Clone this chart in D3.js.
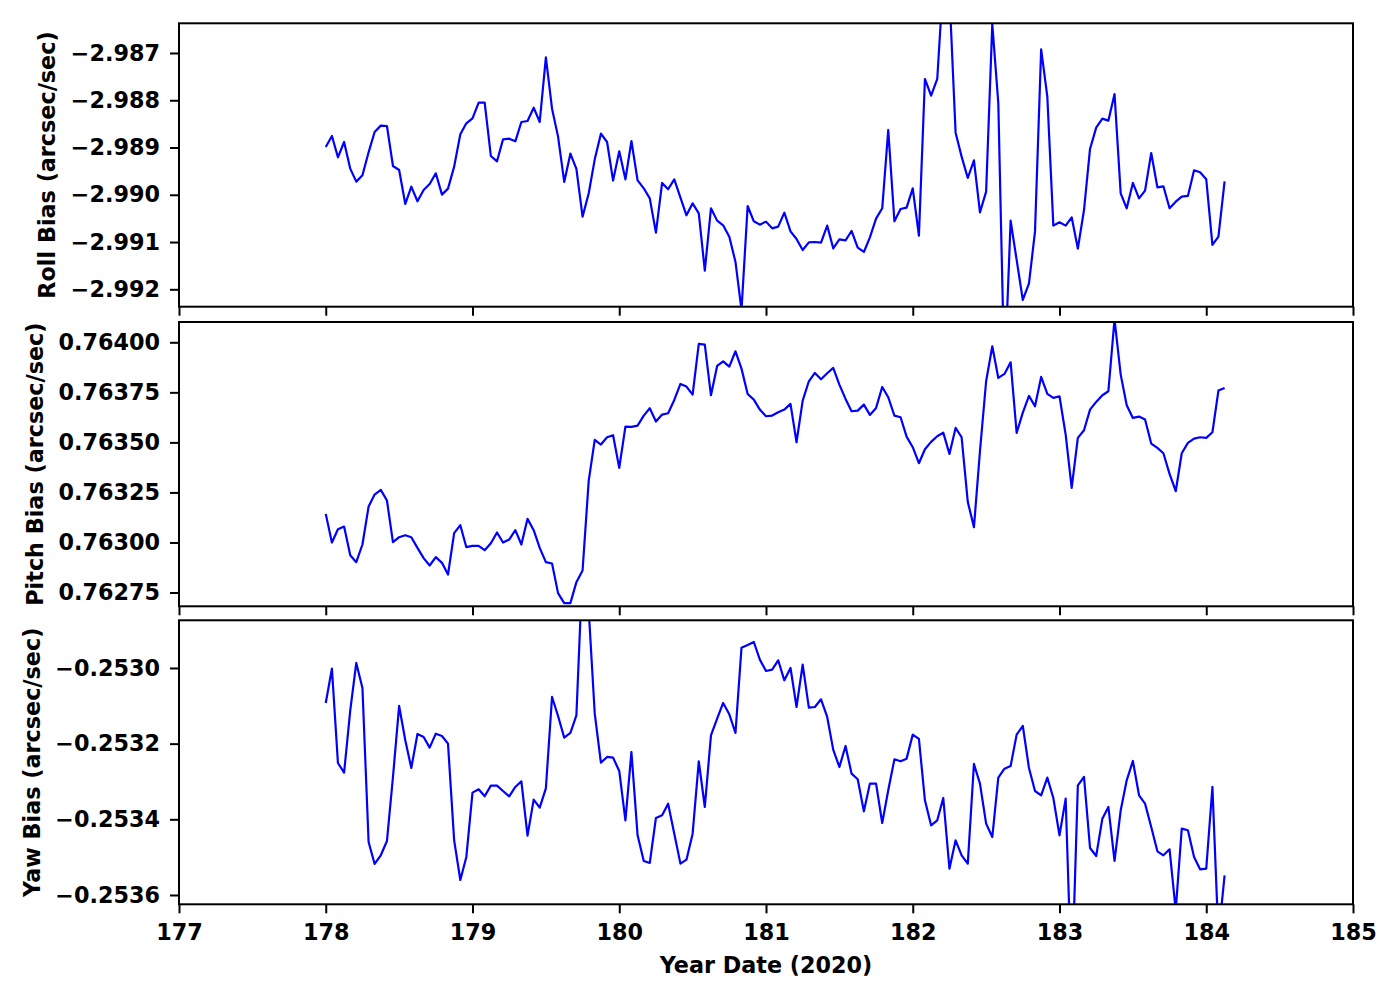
<!DOCTYPE html>
<html>
<head>
<meta charset="utf-8">
<script src="https://cdn.jsdelivr.net/npm/d3@7"></script>
<style>
  html, body { margin: 0; padding: 0; background: #ffffff; }
  svg { display: block; }
  text { font-family: "DejaVu Sans", sans-serif; font-weight: bold; fill: #000; }
</style>
</head>
<body>
<svg id="chart" width="1400" height="1000"></svg>
<script>
// ---------------- DATA ----------------
const times = [
  178.000,178.042,178.083,178.125,178.167,178.208,178.250,178.292,178.333,178.375,178.417,178.458,
  178.500,178.542,178.583,178.625,178.667,178.708,178.750,178.792,178.833,178.875,178.917,178.958,
  179.000,179.042,179.083,179.125,179.167,179.208,179.250,179.292,179.333,179.375,179.417,179.458,
  179.500,179.542,179.583,179.625,179.667,179.708,179.750,179.792,179.833,179.875,179.917,179.958,
  180.000,180.042,180.083,180.125,180.167,180.208,180.250,180.292,180.333,180.375,180.417,180.458,
  180.500,180.542,180.583,180.625,180.667,180.708,180.750,180.792,180.833,180.875,180.917,180.958,
  181.000,181.042,181.083,181.125,181.167,181.208,181.250,181.292,181.333,181.375,181.417,181.458,
  181.500,181.542,181.583,181.625,181.667,181.708,181.750,181.792,181.833,181.875,181.917,181.958,
  182.000,182.042,182.083,182.125,182.167,182.208,182.250,182.292,182.333,182.375,182.417,182.458,
  182.500,182.542,182.583,182.625,182.667,182.708,182.750,182.792,182.833,182.875,182.917,182.958,
  183.000,183.042,183.083,183.125,183.167,183.208,183.250,183.292,183.333,183.375,183.417,183.458,
  183.500,183.542,183.583,183.625,183.667,183.708,183.750,183.792,183.833,183.875,183.917,183.958,
  184.000,184.042,184.083,184.125
];

const rollBias = [
  -2.988989,-2.988756,-2.989207,-2.988883,-2.989447,-2.989722,-2.989588,-2.989102,-2.988671,-2.988537,
  -2.988545,-2.989391,-2.989475,-2.990195,-2.989828,-2.990138,-2.989899,-2.989772,-2.989546,-2.989997,
  -2.989870,-2.989405,-2.988721,-2.988488,-2.988382,-2.988051,-2.988051,-2.989179,-2.989292,-2.988827,
  -2.988813,-2.988869,-2.988460,-2.988439,-2.988157,-2.988460,-2.987092,-2.988178,-2.988770,-2.989729,
  -2.989130,-2.989454,-2.990463,-2.989969,-2.989250,-2.988707,-2.988883,-2.989701,-2.989080,-2.989673,
  -2.988862,-2.989694,-2.989863,-2.990075,-2.990801,-2.989750,-2.989884,-2.989673,-2.990061,-2.990434,
  -2.990181,-2.990392,-2.991605,-2.990286,-2.990547,-2.990646,-2.990886,-2.991422,-2.992437,-2.990237,
  -2.990561,-2.990632,-2.990568,-2.990710,-2.990674,-2.990378,-2.990773,-2.990935,-2.991168,-2.991006,
  -2.990999,-2.991013,-2.990653,-2.991133,-2.990942,-2.990963,-2.990766,-2.991119,-2.991210,-2.990900,
  -2.990505,-2.990286,-2.988629,-2.990561,-2.990300,-2.990272,-2.989863,-2.990865,-2.987550,-2.987903,
  -2.987550,-2.985456,-2.985738,-2.988686,-2.989193,-2.989645,-2.989271,-2.990371,-2.989934,-2.986387,
  -2.988065,-2.993900,-2.990547,-2.991379,-2.992226,-2.991873,-2.990780,-2.986923,-2.987924,-2.990653,
  -2.990583,-2.990653,-2.990477,-2.991140,-2.990322,-2.989031,-2.988580,-2.988389,-2.988432,-2.987868,
  -2.989969,-2.990286,-2.989750,-2.990075,-2.989913,-2.989116,-2.989842,-2.989821,-2.990286,-2.990145,
  -2.990040,-2.990025,-2.989482,-2.989525,-2.989673,-2.991062,-2.990886,-2.989715
];

const pitchBias = [
  0.7631429,0.7629998,0.7630663,0.7630796,0.7629365,0.7629016,0.7629898,0.7631795,0.7632394,0.7632627,
  0.7632095,0.7630014,0.7630264,0.7630364,0.7630264,0.7629731,0.7629216,0.7628849,0.7629265,0.7628982,
  0.7628400,0.7630464,0.7630863,0.7629765,0.7629831,0.7629831,0.7629615,0.7629964,0.7630497,0.7629998,
  0.7630147,0.7630613,0.7629898,0.7631179,0.7630613,0.7629731,0.7629016,0.7628949,0.7627468,0.7626969,
  0.7626969,0.7628017,0.7628600,0.7633093,0.7635124,0.7634891,0.7635257,0.7635357,0.7633726,0.7635789,
  0.7635773,0.7635839,0.7636339,0.7636705,0.7636039,0.7636389,0.7636455,0.7637121,0.7637920,0.7637787,
  0.7637387,0.7639917,0.7639884,0.7637354,0.7638818,0.7639051,0.7638785,0.7639551,0.7638685,0.7637420,
  0.7637137,0.7636638,0.7636305,0.7636339,0.7636505,0.7636638,0.7636921,0.7635007,0.7637088,0.7638053,
  0.7638469,0.7638153,0.7638452,0.7638719,0.7637886,0.7637171,0.7636555,0.7636588,0.7636888,0.7636372,
  0.7636721,0.7637770,0.7637254,0.7636339,0.7636255,0.7635290,0.7634758,0.7633959,0.7634658,0.7635024,
  0.7635307,0.7635490,0.7634425,0.7635723,0.7635257,0.7632028,0.7630763,0.7634558,0.7638053,0.7639800,
  0.7638219,0.7638419,0.7639001,0.7635473,0.7636488,0.7637321,0.7636805,0.7638269,0.7637420,0.7637221,
  0.7637304,0.7635390,0.7632727,0.7635224,0.7635606,0.7636638,0.7637021,0.7637354,0.7637554,0.7641150,
  0.7638386,0.7636855,0.7636222,0.7636289,0.7636139,0.7634941,0.7634724,0.7634458,0.7633426,0.7632561,
  0.7634458,0.7634974,0.7635190,0.7635257,0.7635224,0.7635506,0.7637587,0.7637720
];

const yawBias = [
  -0.2530925,-0.2530018,-0.2532511,-0.2532766,-0.2531119,-0.2529868,-0.2530529,-0.2534599,-0.2535180,-0.2534951,
  -0.2534572,-0.2532881,-0.2531004,-0.2531912,-0.2532643,-0.2531744,-0.2531824,-0.2532106,-0.2531736,-0.2531797,
  -0.2532000,-0.2534555,-0.2535603,-0.2534995,-0.2533295,-0.2533207,-0.2533392,-0.2533110,-0.2533110,-0.2533251,
  -0.2533392,-0.2533145,-0.2532995,-0.2534431,-0.2533480,-0.2533691,-0.2533180,-0.2530766,-0.2531269,-0.2531841,
  -0.2531718,-0.2531251,-0.2527330,-0.2528476,-0.2531207,-0.2532502,-0.2532352,-0.2532370,-0.2532722,-0.2534026,
  -0.2532220,-0.2534423,-0.2535101,-0.2535154,-0.2533964,-0.2533894,-0.2533586,-0.2534379,-0.2535171,-0.2535066,
  -0.2534379,-0.2532467,-0.2533674,-0.2531780,-0.2531339,-0.2530925,-0.2531225,-0.2531718,-0.2529463,-0.2529392,
  -0.2529313,-0.2529780,-0.2530079,-0.2530044,-0.2529797,-0.2530326,-0.2530000,-0.2531031,-0.2529912,-0.2531048,
  -0.2531031,-0.2530828,-0.2531295,-0.2532158,-0.2532617,-0.2532061,-0.2532793,-0.2532942,-0.2533788,-0.2533057,
  -0.2533057,-0.2534097,-0.2533233,-0.2532414,-0.2532467,-0.2532396,-0.2531762,-0.2531876,-0.2533498,-0.2534158,
  -0.2534026,-0.2533436,-0.2535304,-0.2534555,-0.2534951,-0.2535171,-0.2532537,-0.2533057,-0.2534114,-0.2534467,
  -0.2532898,-0.2532661,-0.2532590,-0.2531762,-0.2531533,-0.2532643,-0.2533251,-0.2533365,-0.2532898,-0.2533436,
  -0.2534423,-0.2533453,-0.2538431,-0.2533101,-0.2532881,-0.2534757,-0.2534969,-0.2533982,-0.2533674,-0.2535101,
  -0.2533762,-0.2532969,-0.2532458,-0.2533365,-0.2533586,-0.2534202,-0.2534845,-0.2534951,-0.2534793,-0.2536405,
  -0.2534246,-0.2534290,-0.2534995,-0.2535321,-0.2535304,-0.2533145,-0.2537110,-0.2535480
];

const xTicks = [177, 178, 179, 180, 181, 182, 183, 184, 185];
const rollTicks = [-2.987, -2.988, -2.989, -2.990, -2.991, -2.992];
const pitchTicks = [0.76400, 0.76375, 0.76350, 0.76325, 0.76300, 0.76275];
const yawTicks = [-0.2530, -0.2532, -0.2534, -0.2536];

const rollDomain = [-2.992368, -2.986372];
const pitchDomain = [0.7626811, 0.7641014];
const yawDomain = [-0.2536246, -0.252874];

const xLabel = "Year Date (2020)";

// ---------------- LAYOUT ----------------
const svg = d3.select("#chart");
const left = 179, right = 1353;
const x = d3.scaleLinear().domain([177, 185]).range([left, right]);

const panels = [
  { values: rollBias, ticks: rollTicks, domain: rollDomain, fmt: ".3f", label: "Roll Bias (arcsec/sec)", top: 23.3, bottom: 306.7, showX: false, labelX: 47 },
  { values: pitchBias, ticks: pitchTicks, domain: pitchDomain, fmt: ".5f", label: "Pitch Bias (arcsec/sec)", top: 322, bottom: 606.3, showX: false, labelX: 35 },
  { values: yawBias, ticks: yawTicks, domain: yawDomain, fmt: ".4f", label: "Yaw Bias (arcsec/sec)", top: 620.3, bottom: 904.3, showX: true, labelX: 32 }
];

const FS = 22.3;
const defs = svg.append("defs");

panels.forEach((p, k) => {
  const y = d3.scaleLinear().domain(p.domain).range([p.bottom, p.top]);
  const f = d3.format(p.fmt);
  const clipId = "clip" + k;
  defs.append("clipPath").attr("id", clipId)
    .append("rect").attr("x", left).attr("y", p.top)
    .attr("width", right - left).attr("height", p.bottom - p.top);

  const g = svg.append("g");

  // line
  const line = d3.line().x((d, i) => x(times[i])).y(d => y(d));
  g.append("path")
    .datum(p.values)
    .attr("clip-path", `url(#${clipId})`)
    .attr("fill", "none")
    .attr("stroke", "#0000ff")
    .attr("stroke-width", 2.2)
    .attr("stroke-linejoin", "round")
    .attr("d", line);

  // y axis
  const yAxis = d3.axisLeft(y).tickValues(p.ticks).tickSize(9).tickPadding(10)
    .tickFormat(d => f(d).replace("-", "\u2212"));
  const ya = g.append("g").attr("transform", `translate(${left},0)`).call(yAxis);
  ya.select(".domain").remove();
  ya.selectAll(".tick line").attr("stroke", "#000").attr("stroke-width", 2);
  ya.selectAll(".tick text").attr("font-size", FS).attr("font-family", "DejaVu Sans").attr("font-weight", "bold").attr("fill", "#000");

  // x axis
  const xAxis = d3.axisBottom(x).tickValues(xTicks).tickSize(9).tickPadding(11)
    .tickFormat(d => p.showX ? d3.format("d")(d) : "");
  const xa = g.append("g").attr("transform", `translate(0,${p.bottom})`).call(xAxis);
  xa.select(".domain").remove();
  xa.selectAll(".tick line").attr("stroke", "#000").attr("stroke-width", 2);
  xa.selectAll(".tick text").attr("font-size", FS).attr("font-family", "DejaVu Sans").attr("font-weight", "bold").attr("fill", "#000");

  // frame
  g.append("rect")
    .attr("x", left).attr("y", p.top)
    .attr("width", right - left).attr("height", p.bottom - p.top)
    .attr("fill", "none").attr("stroke", "#000").attr("stroke-width", 2);

  // y label
  svg.append("text")
    .attr("transform", `translate(${p.labelX},${(p.top + p.bottom) / 2}) rotate(-90)`)
    .attr("text-anchor", "middle")
    .attr("dominant-baseline", "central")
    .attr("font-size", FS)
    .text(p.label);
});

svg.append("text")
  .attr("x", (left + right) / 2)
  .attr("y", 965)
  .attr("text-anchor", "middle")
  .attr("dominant-baseline", "central")
  .attr("font-size", FS)
  .text(xLabel);
</script>
</body>
</html>
